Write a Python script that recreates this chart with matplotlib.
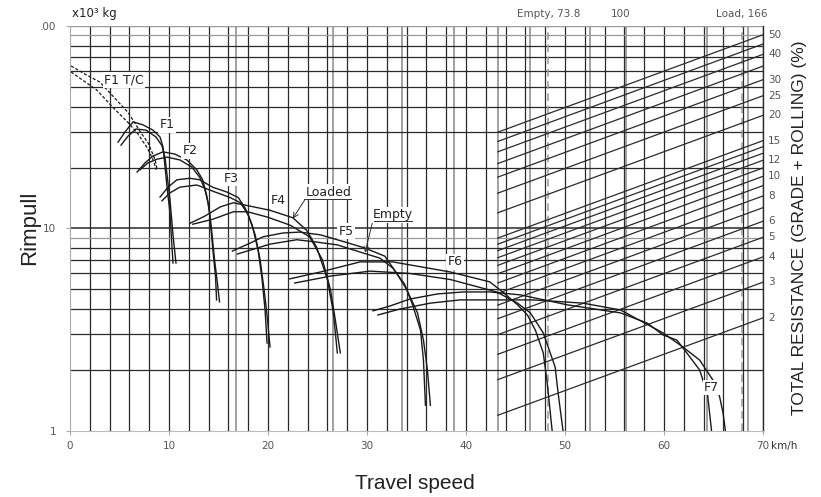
import numpy as np
import matplotlib.pyplot as plt
import matplotlib.transforms as mtransforms

# ================================
# data
# ================================
# F1 torque-converter curves (dashed)
tc_a_speed = [0.1, 1.5, 3.0, 4.7, 5.9, 7.1, 7.9, 8.6, 8.8]
tc_a_pull = [63.5, 57.9, 52.9, 43.1, 37.2, 30.0, 26.4, 21.8, 19.5]
tc_b_speed = [0.1, 2.7, 4.3, 5.8, 6.8, 7.8, 8.4, 8.7]
tc_b_pull = [59.3, 48.3, 39.8, 33.6, 29.6, 25.0, 21.8, 19.5]

# gear curves, two per gear (loaded / empty)
f1_a_speed = [4.85, 5.56, 6.36, 7.37, 8.38, 9.09, 9.39, 9.6, 9.8, 10.1, 10.3, 10.4]
f1_a_pull = [26.7, 30.0, 33.6, 32.5, 30.6, 28.3, 25.3, 20.1, 16.0, 11.9, 8.1, 6.75]
f1_b_speed = [5.15, 5.86, 6.67, 7.68, 8.69, 9.29, 9.6, 9.8, 10.1, 10.4, 10.7]
f1_b_pull = [25.8, 28.6, 31.0, 30.6, 28.3, 25.6, 22.3, 18.4, 13.8, 9.3, 6.75]

f2_a_speed = [6.77, 7.58, 8.38, 9.39, 10.6, 11.8, 12.8, 13.4, 13.8, 14.1, 14.4, 14.7, 14.8]
f2_a_pull = [19.0, 21.1, 22.8, 23.9, 23.3, 21.8, 19.5, 17.4, 14.6, 11.9, 8.1, 5.76, 4.44]
f2_b_speed = [7.07, 7.88, 8.79, 9.8, 11.1, 12.3, 13.1, 13.6, 14.0, 14.3, 14.6, 14.9, 15.1]
f2_b_pull = [19.5, 21.1, 22.0, 22.5, 21.8, 20.1, 17.9, 15.7, 13.1, 9.8, 7.0, 5.3, 4.34]

f3_a_speed = [9.09, 9.9, 10.8, 12.1, 13.1, 14.4, 15.9, 17.0, 17.7, 18.4, 19.0, 19.4, 19.7, 19.9]
f3_a_pull = [14.3, 16.0, 17.4, 17.7, 17.4, 16.0, 15.1, 14.2, 12.6, 10.4, 7.8, 5.6, 3.96, 2.72]
f3_b_speed = [9.29, 10.1, 11.1, 12.8, 14.4, 16.2, 17.2, 18.0, 18.7, 19.2, 19.6, 19.9, 20.2]
f3_b_pull = [13.7, 15.0, 16.0, 16.4, 15.3, 14.2, 13.4, 11.7, 9.3, 7.0, 5.0, 3.74, 2.60]

f4_a_speed = [12.1, 13.6, 15.2, 16.5, 18.5, 20.2, 22.5, 23.9, 24.9, 26.0, 26.6, 27.0]
f4_a_pull = [10.6, 11.5, 12.8, 13.4, 12.8, 12.3, 11.3, 9.8, 8.1, 5.6, 3.83, 2.43]
f4_b_speed = [12.4, 14.4, 16.5, 17.9, 19.9, 22.2, 24.2, 25.5, 26.3, 26.8, 27.3]
f4_b_pull = [10.5, 11.1, 12.1, 12.1, 11.4, 10.4, 9.1, 7.0, 5.0, 3.53, 2.43]

f5_a_speed = [16.4, 18.2, 19.5, 21.5, 23.2, 25.3, 27.8, 29.8, 31.8, 33.0, 34.0, 35.1, 35.7, 36.1, 36.4]
f5_a_pull = [7.74, 8.47, 9.1, 9.5, 9.6, 9.3, 8.57, 8.0, 7.3, 6.0, 5.0, 3.83, 2.81, 2.0, 1.34]
f5_b_speed = [16.9, 20.2, 22.9, 24.9, 27.0, 29.3, 31.3, 32.6, 33.8, 34.6, 35.4, 35.7, 35.9]
f5_b_pull = [7.48, 8.37, 8.8, 8.57, 8.3, 7.65, 7.14, 6.38, 5.3, 4.2, 3.15, 2.24, 1.34]

f6_a_speed = [22.2, 25.3, 29.3, 32.6, 38.4, 42.4, 43.7, 45.2, 46.2, 47.0, 47.8, 48.2, 48.7]
f6_a_pull = [5.64, 6.1, 6.84, 6.84, 6.1, 5.45, 4.86, 4.2, 3.74, 3.15, 2.43, 1.73, 1.0]
f6_b_speed = [22.7, 26.3, 30.3, 34.3, 38.4, 43.1, 45.2, 46.5, 47.8, 49.0, 49.3, 49.8]
f6_b_pull = [5.38, 5.82, 6.16, 6.0, 5.6, 4.86, 4.28, 3.83, 3.05, 2.07, 1.54, 1.0]

f7_a_speed = [30.6, 32.3, 34.3, 37.1, 39.7, 42.4, 45.5, 50.2, 55.6, 58.3, 59.9, 61.3, 62.3, 63.6, 64.4, 64.8]
f7_a_pull = [3.92, 4.14, 4.48, 4.75, 4.86, 4.86, 4.7, 4.2, 3.83, 3.41, 2.98, 2.81, 2.43, 2.0, 1.51, 1.0]
f7_b_speed = [31.1, 33.3, 36.4, 39.4, 42.4, 46.8, 51.8, 55.6, 59.9, 61.9, 63.6, 65.4, 65.96, 66.2]
f7_b_pull = [3.74, 4.0, 4.28, 4.44, 4.44, 4.44, 4.28, 3.96, 3.05, 2.6, 2.24, 1.65, 1.23, 1.0]

# total resistance lines (%) and labelled ones
resistance_pct = [2, 3, 4, 5, 6, 7, 8, 9, 10, 11, 12, 13, 14, 15, 20, 25, 30, 35, 40, 45, 50]
resistance_labels = [50, 40, 30, 25, 20, 15, 12, 10, 8, 6, 5, 4, 3, 2]

# gross weight scale (x10^3 kg)
empty_weight = 73.8
loaded_weight = 166
mid_weight = 100

# ================================
# layout constants
# ================================
x_empty = 48.3      # speed axis position of the empty weight line
x_load = 67.9       # speed axis position of the loaded weight line
x_nomo = 43.2       # left edge of the resistance nomogram

def weight_to_x(w):
    return x_empty + (x_load - x_empty) * np.log10(w / empty_weight) / np.log10(loaded_weight / empty_weight)

def x_to_weight(x):
    return empty_weight * (loaded_weight / empty_weight) ** ((x - x_empty) / (x_load - x_empty))

dark = "#2a2a2a"
grey = "#9a9a9a"
txt_grey = "#555555"

fig = plt.figure(figsize=(8.21, 4.97), dpi=100)
ax = fig.add_axes([0.0853, 0.1328, 0.8441, 0.8149])
ax.set_yscale("log")
ax.set_xlim(0, 70)
ax.set_ylim(1, 100)

# ---- grid ----
for v in np.arange(2, 71, 2):
    ax.axvline(v, color=dark, lw=0.9, zorder=1)
for v in [16.8, 26.6, 33.5, 38.8, 43.2, 46.5, 52.5, 56.2, 64.3, 68.5]:
    ax.axvline(v, color=grey, lw=1.3, zorder=1)
for dec in [1, 10]:
    for m in range(2, 10):
        ax.axhline(dec * m, color=dark if m != 9 else grey, lw=0.9, zorder=1)
ax.axhline(10, color=dark, lw=1.1, zorder=1)
ax.axhline(100, color=grey, lw=1.0, zorder=1)

# empty / loaded weight dashed lines
ax.axvline(x_empty, color=grey, lw=1.1, ls=(0, (5, 3)), zorder=2)
ax.axvline(x_load, color=grey, lw=1.1, ls=(0, (5, 3)), zorder=2)

# ---- resistance lines ----
xr = np.array([x_nomo, 70])
wr = x_to_weight(xr)
for pct in resistance_pct:
    ax.plot(xr, wr * pct / 100, color=dark, lw=0.9, zorder=2)
w_right = x_to_weight(70)
for pct in resistance_labels:
    ax.text(70.5, w_right * pct / 100, str(pct), fontsize=7.5, color=txt_grey,
            ha="left", va="center")

# ---- rimpull curves ----
curves = [
    (f1_a_speed, f1_a_pull), (f1_b_speed, f1_b_pull),
    (f2_a_speed, f2_a_pull), (f2_b_speed, f2_b_pull),
    (f3_a_speed, f3_a_pull), (f3_b_speed, f3_b_pull),
    (f4_a_speed, f4_a_pull), (f4_b_speed, f4_b_pull),
    (f5_a_speed, f5_a_pull), (f5_b_speed, f5_b_pull),
    (f6_a_speed, f6_a_pull), (f6_b_speed, f6_b_pull),
    (f7_a_speed, f7_a_pull), (f7_b_speed, f7_b_pull),
]
for sp, rp in curves:
    ax.plot(sp, rp, color="#1a1a1a", lw=1.0, zorder=3)
ax.plot(tc_a_speed, tc_a_pull, color="#1a1a1a", lw=0.9, ls=(0, (2.5, 1.5)), zorder=3)
ax.plot(tc_b_speed, tc_b_pull, color="#1a1a1a", lw=0.9, ls=(0, (2.5, 1.5)), zorder=3)

# ---- curve labels ----
box = dict(facecolor="white", edgecolor="none", pad=1.0)
gear_labels = [("F1 T/C", 5.45, 54.1), ("F1", 9.8, 32.5), ("F2", 12.1, 24.2),
               ("F3", 16.3, 17.7), ("F4", 21.0, 13.8), ("F5", 27.9, 9.7),
               ("F6", 38.9, 6.84), ("F7", 64.8, 1.64)]
for name, gx, gy in gear_labels:
    ax.text(gx, gy, name, fontsize=9, color="#222222", ha="center", va="center",
            bbox=box, zorder=5)

# "Loaded" / "Empty" with underline leaders
for name, tip, pos in [("Loaded", (22.5, 11.2), (26.1, 15.1)),
                       ("Empty", (29.8, 7.6), (32.6, 11.7))]:
    ax.annotate(name, xy=tip, xytext=pos, fontsize=9, color="#222222",
                ha="center", va="center", zorder=5,
                bbox=dict(facecolor="white", edgecolor="none", pad=1.0),
                arrowprops=dict(arrowstyle="->", color="#333333", lw=0.7,
                                shrinkA=0, shrinkB=0, relpos=(0, 0)))
ax.plot([23.6, 28.4], [13.95, 13.95], color="#333333", lw=0.7, zorder=6)
ax.plot([30.7, 34.5], [10.9, 10.9], color="#333333", lw=0.7, zorder=6)

# ---- ticks ----
ax.set_xticks(np.arange(0, 71, 10))
ax.set_xticklabels([str(v) for v in range(0, 70, 10)] + ["70"])
ax.set_yticks([1, 10, 100])
ax.set_yticklabels(["1", "10", ".00"])
ax.minorticks_off()
ax.tick_params(axis="both", labelsize=7.5, colors=txt_grey, length=3, width=0.8)
ax.tick_params(axis="x", pad=4, colors="#aaaaaa", labelcolor=txt_grey)
ax.tick_params(axis="y", pad=7, colors="#aaaaaa", labelcolor=txt_grey)

trans_x = mtransforms.blended_transform_factory(ax.transData, ax.transAxes)
ax.text(70.8, -0.037, "km/h", transform=trans_x, fontsize=7.5, color="#333333",
        ha="left", va="center")

ax.spines["top"].set_visible(False)
ax.spines["left"].set_color("#aaaaaa")
ax.spines["bottom"].set_color("#bbbbbb")
ax.spines["right"].set_color(dark)
ax.spines["right"].set_linewidth(1.0)

# ---- top weight axis labels ----
ax.text(0.2, 1.03, "x10³ kg", transform=trans_x, fontsize=8.5, color="#222222",
        ha="left", va="center")
ax.text(x_empty, 1.03, "Empty, 73.8", transform=trans_x, fontsize=7.5, color=txt_grey,
        ha="center", va="center")
ax.text(weight_to_x(mid_weight), 1.03, "100", transform=trans_x, fontsize=7.5,
        color=txt_grey, ha="center", va="center")
ax.text(x_load, 1.03, "Load, 166", transform=trans_x, fontsize=7.5, color=txt_grey,
        ha="center", va="center")

# ---- axis titles ----
fig.text(0.0365, 0.541, "Rimpull", rotation=90, fontsize=16, color="#222222",
         family=["Liberation Sans", "DejaVu Sans"], ha="center", va="center")
fig.text(0.505, 0.028, "Travel speed", fontsize=15, color="#222222",
         family=["Liberation Sans", "DejaVu Sans"], ha="center", va="center")
ax.text(1.053, 0.501, "TOTAL RESISTANCE (GRADE + ROLLING) (%)", transform=ax.transAxes,
        rotation=90, fontsize=12.5, color="#222222",
        family=["Liberation Sans", "DejaVu Sans"],
        ha="center", va="center")

fig.savefig("out.png", dpi=100)
